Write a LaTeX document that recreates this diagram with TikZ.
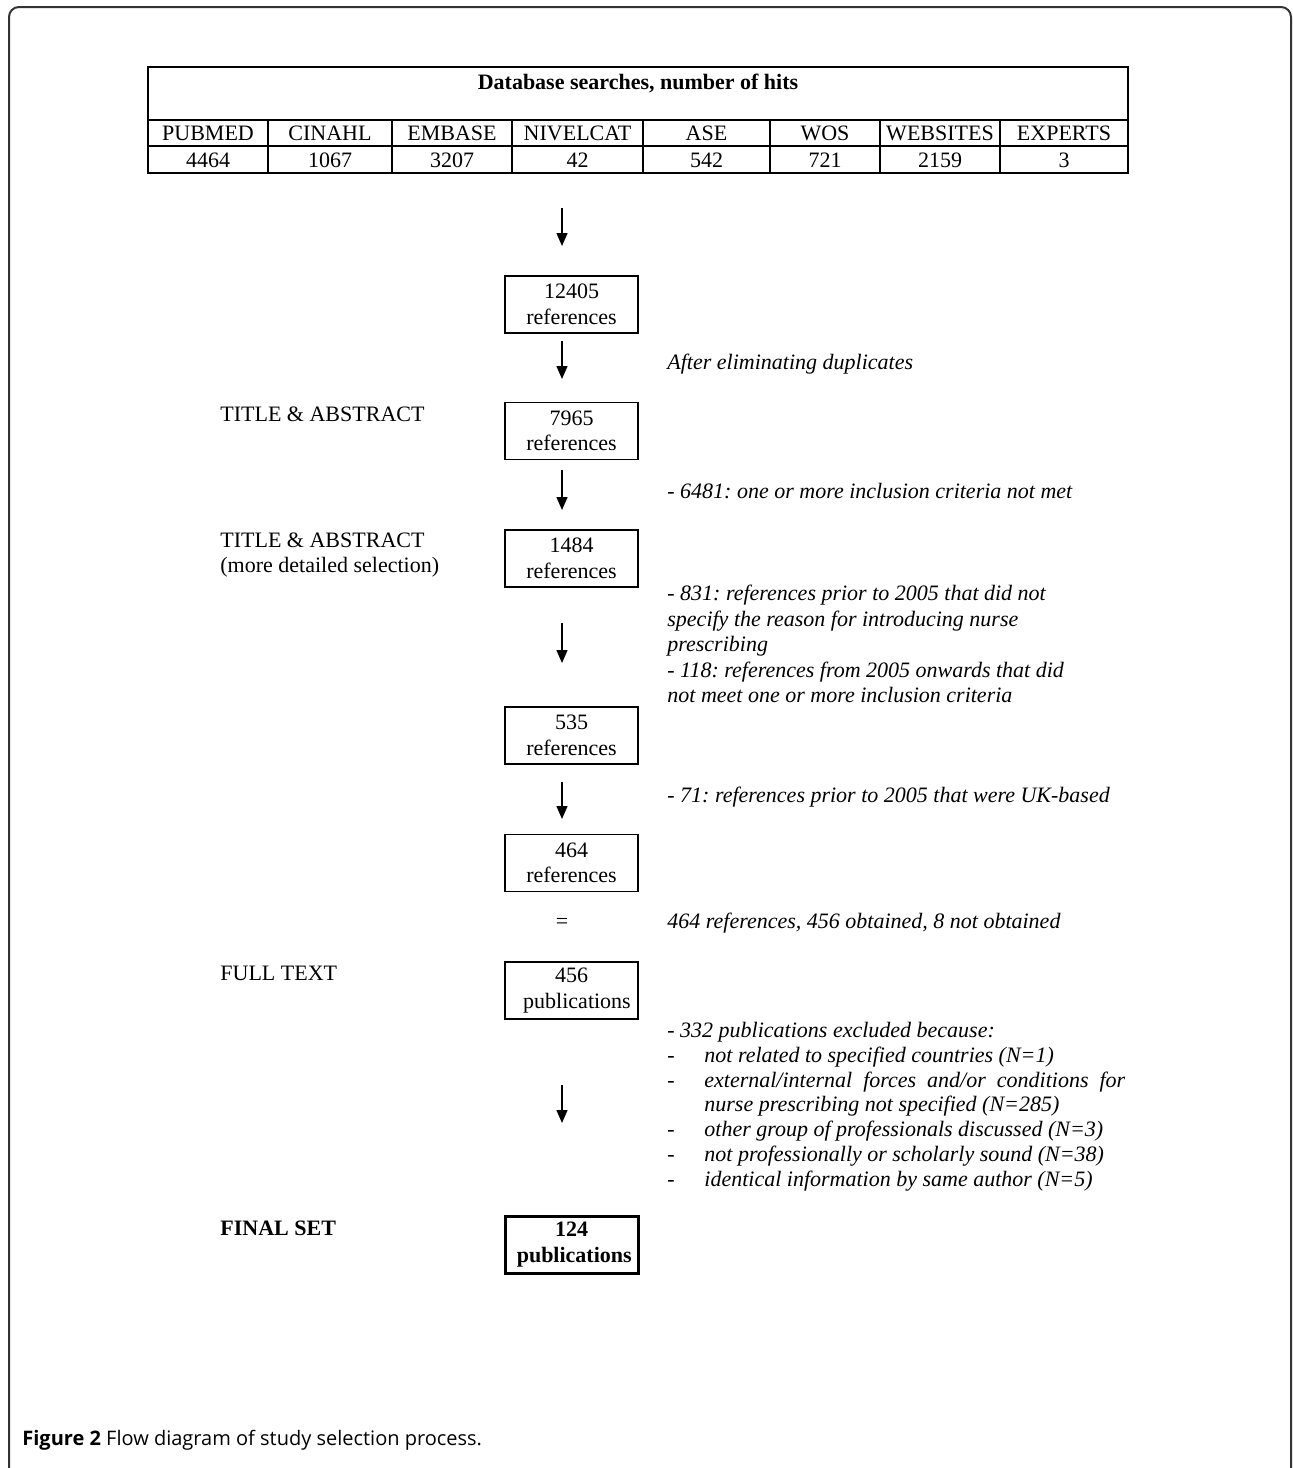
\documentclass[tikz,border=0pt]{standalone}
\usepackage{fontspec}
\setmainfont{Liberation Serif}
\newfontfamily\capfont{Open Sans}
\usetikzlibrary{arrows.meta}
\tikzset{
  stepbox/.style={draw, line width=0.75pt, minimum width=66.5pt, minimum height=28.5pt, inner sep=0pt, align=center},
  finalbox/.style={stepbox, line width=1.5pt, font=\bfseries},
  stage/.style={anchor=west, align=left, inner sep=0pt},
  note/.style={anchor=west, align=left, inner sep=0pt, font=\itshape},
  flowarrow/.style={line width=0.7pt, -{Triangle[length=6.5pt,width=5.5pt]}},
  cell/.style={inner sep=0pt},
  rule/.style={line width=1pt}
}
\begin{document}
\frenchspacing
\fontsize{11}{12.75}\selectfont
\begin{tikzpicture}[x=0.5pt, y=-0.5pt]
  \useasboundingbox (0,0) rectangle (1292,1468);
  % page frame and caption
  \draw[line width=1pt, black!80, rounded corners=5pt] (9,1480) -- (9,7) -- (1291,7) -- (1291,1480);
  \node[anchor=west, inner sep=0pt, font=\capfont\fontsize{10}{12}\selectfont] (caption) at (22,1440)
    {\textbf{Figure 2} Flow diagram of study selection process.};
  % database table
  \draw[rule] (148,67) rectangle (1128,173);
  \draw[rule] (148,120) -- (1128,120) (148,146) -- (1128,146);
  \node[cell, font=\bfseries] (dbhead) at (638,83) {Database searches, number of hits};
  \foreach \l/\r/\db/\hits [count=\i] in {148/268/PUBMED/4464, 268/392/CINAHL/1067,
      392/512/EMBASE/3207, 512/643/NIVELCAT/42, 643/770/ASE/542, 770/880/WOS/721,
      880/1000/WEBSITES/2159, 1000/1128/EXPERTS/3}{
    \draw[rule] (\r,120) -- (\r,173);
    \node[cell] (db\i) at ({(\l+\r)/2},133) {\db};
    \node[cell] (hits\i) at ({(\l+\r)/2},160) {\hits};
  }
  % flow boxes
  \node[stepbox] (n12405) at (571.5,304.5) {12405\\references};
  \node[stepbox] (n7965) at (571.5,431) {7965\\references};
  \node[stepbox] (n1484) at (571.5,558.5) {1484\\references};
  \node[stepbox] (n535) at (571.5,735.5) {535\\references};
  \node[stepbox] (n464) at (571.5,863) {464\\references};
  \node[stepbox] (n456) at (571.5,990.5) {456\\\ \ publications};
  \node[finalbox] (n124) at (571.5,1244.5) {124\\\ publications};
  % arrows
  \foreach \n/\ys/\ye in {0/208/246, 1/341/379, 2/470/510, 3/623/663, 4/782/819, 5/1085/1123}{
    \coordinate (as\n) at (562,\ys);
    \coordinate (ae\n) at (562,\ye);
    \draw[flowarrow] (as\n) -- (ae\n);
  }
  \node[cell] (eq) at (562,923) {=};
  % stage labels
  \node[stage] (stTA) at (220,414) {TITLE \& ABSTRACT};
  \node[stage] (stDet) at (220,555) {TITLE \& ABSTRACT\\(more detailed selection)};
  \node[stage] (stFull) at (220,973) {FULL TEXT};
  \node[stage, font=\bfseries] (stFinal) at (220,1228) {FINAL SET};
  % exclusion notes
  \node[note] (ntDup) at (667,364) {After eliminating duplicates};
  \node[note] (nt6481) at (667,491) {- 6481: one or more inclusion criteria not met};
  \node[note] (nt831) at (667,644) {- 831: references prior to 2005 that did not\\specify the reason for introducing nurse\\prescribing\\- 118: references from 2005 onwards that did\\not meet one or more inclusion criteria};
  \node[note] (nt71) at (667,797) {- 71: references prior to 2005 that were UK-based};
  \node[note] (ntObt) at (667,923) {464 references, 456 obtained, 8 not obtained};
  \node[note] (nt332) at (667,1107) {\fontsize{11}{12.35}\selectfont
    \begin{tabular}{@{}p{18.5pt}@{}l@{}}
      \multicolumn{2}{@{}l@{}}{- 332 publications excluded because:}\\
      - & not related to specified countries (N=1)\\
      - & external/internal \ forces \ and/or \ conditions \ for\\
        & nurse prescribing not specified (N=285)\\
      - & other group of professionals discussed (N=3)\\
      - & not professionally or scholarly sound (N=38)\\
      - & identical information by same author (N=5)
    \end{tabular}};
\end{tikzpicture}
\end{document}
